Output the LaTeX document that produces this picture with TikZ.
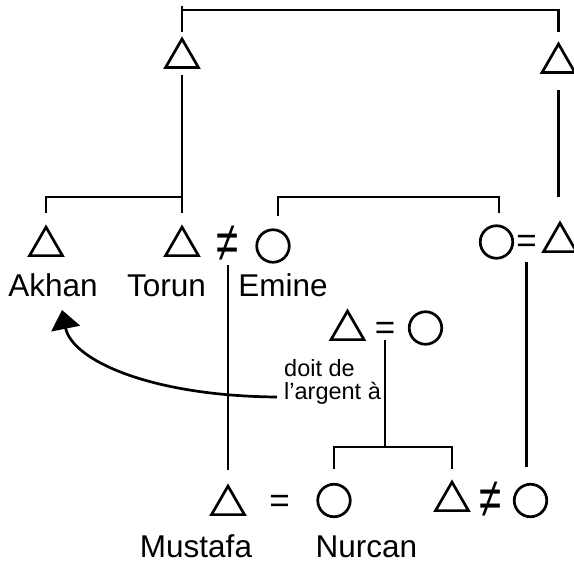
\documentclass[tikz,border=0pt]{standalone}
\usepackage{fontspec}
\setmainfont{Liberation Sans}
\usetikzlibrary{shapes.geometric,arrows.meta}
\tikzset{
  kin/.style={line width=2.7pt},
  male/.style={regular polygon, regular polygon sides=3, draw, line width=2.7pt, minimum size=38pt, inner sep=0pt},
  female/.style={circle, draw, line width=2.7pt, minimum size=32.5pt, inner sep=0pt},
  pname/.style={font=\fontsize{31.5}{36}\selectfont, anchor=base, inner sep=0pt},
  rel/.style={font=\fontsize{35}{40}\selectfont, anchor=base, inner sep=0pt},
  note/.style={font=\fontsize{23.5}{23}\selectfont, anchor=base west, inner sep=0pt},
}
\newcommand{\neqsym}{\scalebox{1.15}[1.6]{≠}}
\begin{document}
\begin{tikzpicture}[x=1pt,y=-1pt]
\useasboundingbox (0,0) rectangle (574,563);
% generation 1
\node[male] (T1) at (182,58) {};
\node[male] (T2) at (558.5,63) {};
% generation 2
\node[male] (Ak) at (46,246.1) {};
\node[male] (To) at (182,246.1) {};
\node[rel] (neq1) at (228,261.6) {\neqsym};
\node[female] (Em) at (273,246) {};
\node[female] (W2) at (496.5,242) {};
\node[rel] (eq1) at (526.5,252.6) {=};
\node[male] (R2) at (560,242.1) {};
% labels
\node[pname] (lAk) at (53,296) {Akhan};
\node[pname] (lTo) at (166.5,296) {Torun};
\node[pname] (lEm) at (283,296) {Emine};
% middle couple
\node[male] (M1) at (347.5,330.1) {};
\node[rel] (eq2) at (385,339.6) {=};
\node[female] (F1) at (425.5,328) {};
% bottom row
\node[male] (Mu) at (228,505.1) {};
\node[rel] (eq3) at (279.5,512) {=};
\node[female] (Nu) at (334,500.5) {};
\node[male] (B1) at (452,501.1) {};
\node[rel] (neq2) at (490.5,517) {\neqsym};
\node[female] (B2) at (530.5,500.5) {};
\node[pname] (lMu) at (196,557.5) {Mustafa};
\node[pname] (lNu) at (366.5,557.5) {Nurcan};
% note
\node[note] (D) at (284,376.5) {\vtop{\baselineskip=23pt\hbox{doit de}\hbox{l’argent à}}};
\coordinate (dstart) at (277,397);
\coordinate (tip) at (62,310);
% connectors
\draw[kin] (T1 |- 0,32) -- (T1 |- 0,6);
\draw[kin] (T1 |- 0,10) -| (T2 |- 0,32);
\draw[kin] (T1 |- 0,75) -- (To |- 0,213);
\draw[kin] (To |- 0,197) -| (Ak |- 0,213);
\draw[kin] (T2 |- 0,90) -- (T2 |- 0,197);
\draw[kin] ([xshift=5pt]Em.center |- 0,216) |- ([xshift=2.5pt]W2.center |- 0,197) -- ([xshift=2.5pt]W2.center |- 0,213);
\draw[kin] (neq1 |- 0,265) -- (Mu |- 0,470);
\draw[kin] (eq1 |- 0,262) -- (eq1 |- 0,467);
\draw[kin] (eq2 |- 0,340) -- (eq2 |- 0,447);
\draw[kin] (Nu |- 0,469) |- (0,447 -| B1) -- (B1 |- 0,469);
\draw[kin, -{Triangle[width=29pt,length=19pt]}] (dstart) .. controls (150,396) and (72,360) .. (tip);
\end{tikzpicture}
\end{document}
